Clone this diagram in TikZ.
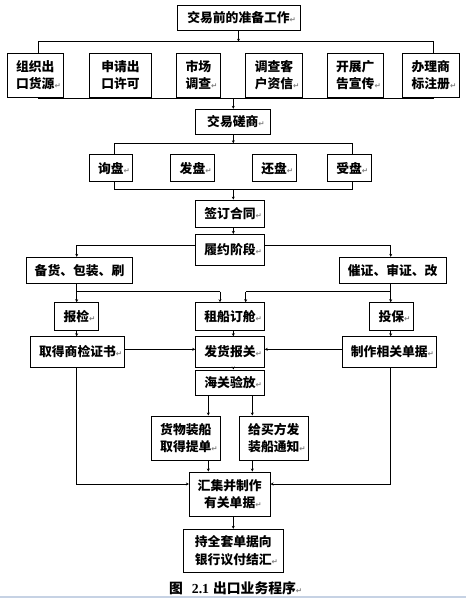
\documentclass[tikz,border=0pt]{standalone}
\usepackage{fontspec}
\setmainfont{Liberation Serif}
\newfontfamily\cjk{Noto Sans CJK SC}
\newfontfamily\djv{DejaVu Sans}
\usetikzlibrary{arrows.meta}
\newcommand\parmark{\makebox[0pt][l]{\djv\fontsize{7.5bp}{8bp}\selectfont\textcolor{gray}{↵}}}
\newcommand\bx[6]{\node[box, minimum width=#4bp, minimum height=#5bp] (#1) at (#2,#3) {#6};}
\tikzset{
  box/.style={draw, line width=0.9bp, inner sep=0pt, align=center,
    font=\cjk\bfseries\fontsize{12.8bp}{17.5bp}\selectfont},
  conn/.style={line width=0.7bp},
  arr/.style={conn, -{Stealth[length=3bp,width=3bp]}},
}
\begin{document}
\begin{tikzpicture}[x=1bp,y=-1bp]
\useasboundingbox (0,0) rectangle (466,600);
% boxes
\bx{top}{238.5}{17.5}{123}{25}{交易前的准备工作\parmark}
\bx{ra}{35.3}{75.3}{56}{44}{组织出\\口货源\parmark}
\bx{rb}{120.5}{75.3}{62.4}{44}{申请出\\口许可}
\bx{rc}{198.3}{75.3}{43.3}{44}{市场\\调查\parmark}
\bx{rd}{274}{75.3}{56.6}{44}{调查客\\户资信\parmark}
\bx{re}{355.3}{75.3}{56}{44}{开展广\\告宣传\parmark}
\bx{rf}{430.8}{75.3}{57}{44}{办理商\\标注册\parmark}
\bx{neg}{232.8}{121.8}{74.3}{25}{交易磋商\parmark}
\bx{xun}{110.8}{168.3}{43}{26.7}{询盘\parmark}
\bx{fa}{192.5}{168.3}{43.6}{26.7}{发盘\parmark}
\bx{huan}{274.1}{168.3}{43.7}{26.7}{还盘\parmark}
\bx{shou}{349.1}{168.3}{43.7}{26.7}{受盘\parmark}
\bx{sign}{230}{213.7}{68.6}{27.3}{签订合同\parmark}
\bx{lv}{230}{249.7}{68.6}{30.7}{履约阶段\parmark}
\bx{bei}{79.5}{270.3}{105.6}{26}{备货、包装、刷}
\bx{cui}{392.7}{270.3}{106.7}{26}{催证、审证、改}
\bx{bj}{76.3}{316.3}{44}{27.3}{报检\parmark}
\bx{zc}{230}{316.3}{68.6}{27.3}{租船订舱\parmark}
\bx{tb}{391.3}{316.3}{44}{27.3}{投保\parmark}
\bx{qd}{77.5}{352}{93.6}{30.6}{取得商检证书\parmark}
\bx{fh}{230}{352}{68.6}{30.6}{发货报关\parmark}
\bx{zz}{389.3}{352}{93.3}{30.6}{制作相关单据\parmark}
\bx{hg}{230}{382.8}{68.6}{25.7}{海关验放\parmark}
\bx{hw}{185.8}{438.3}{68.3}{44.7}{货物装船\\取得提单\parmark}
\bx{gm}{273.8}{438.3}{69}{44.7}{给买方发\\装船通知\parmark}
\bx{hj}{229.7}{494.3}{80.7}{44.7}{汇集并制作\\有关单据\parmark}
\bx{cq}{233.3}{550.8}{100}{43}{持全套单据向\\银行议付结汇\parmark}
\node[inner sep=0pt] (cap) at (232.5,588.3)
  {\cjk\bfseries\fontsize{13.8bp}{14bp}\selectfont 图\hspace{9bp}{\rmfamily\bfseries 2.1}\hspace{4bp}出口业务程序\parmark};
% helper coordinates
\coordinate (xc) at (233.3,0);
\coordinate (b1L) at (38,41.7);
\coordinate (b1R) at (433,41.7);
\coordinate (b2L) at (38,98.3);
\coordinate (b2R) at (433,98.3);
\coordinate (b3L) at (114.3,143.3);
\coordinate (b3R) at (352.3,143.3);
\coordinate (b4L) at (114.3,189.3);
\coordinate (b4R) at (352.3,189.3);
\coordinate (lvL) at (76.7,245.7);
\coordinate (lvR) at (390.7,245.7);
\coordinate (b5L) at (76.7,291.7);
\coordinate (b5M) at (220,291.7);
\coordinate (b6R) at (390.7,291.7);
\coordinate (b6M) at (245.7,291.7);
\coordinate (hgL) at (208.3,0);
\coordinate (hgR) at (252.3,0);
\coordinate (b7L) at (76.7,484);
\coordinate (b7R) at (390.7,484);
\coordinate (yh) at (0,349.3);
% connectors
\draw[arr] (top.south) -- (top.south |- b1L);
\draw[conn] (b1L |- ra.north) -- (b1L) -- (b1R) -- (b1R |- rf.north);
\draw[conn] (b2L |- ra.south) -- (b2L) -- (b2R) -- (b2R |- rf.south);
\draw[arr] (b2L -| xc) -- (xc |- neg.north);
\draw[arr] (xc |- neg.south) -- (xc |- b3L);
\draw[conn] (b3L |- xun.north) -- (b3L) -- (b3R) -- (b3R |- shou.north);
\draw[conn] (b4L |- xun.south) -- (b4L) -- (b4R) -- (b4R |- shou.south);
\draw[arr] (b4L -| xc) -- (xc |- sign.north);
\draw[arr] (xc |- sign.south) -- (xc |- lv.north);
\draw[arr] (lvL -| lv.west) -- (lvL) -- (lvL |- bei.north);
\draw[arr] (lvR -| lv.east) -- (lvR) -- (lvR |- cui.north);
\draw[conn] (b5L |- bei.south) -- (b5L) -- (b5M);
\draw[arr] (b5M) -- (b5M |- zc.north);
\draw[arr] (b5L) -- (b5L |- bj.north);
\draw[conn] (b6R |- cui.south) -- (b6R) -- (b6M);
\draw[arr] (b6M) -- (b6M |- zc.north);
\draw[arr] (b6R) -- (b6R |- tb.north);
\draw[arr] (b5L |- bj.south) -- (b5L |- qd.north);
\draw[arr] (b6R |- tb.south) -- (b6R |- zz.north);
\draw[arr] (xc |- zc.south) -- (xc |- fh.north);
\draw[arr] (qd.east |- yh) -- (fh.west |- yh);
\draw[arr] (zz.west |- yh) -- (fh.east |- yh);
\draw[arr] (xc |- fh.south) -- (xc |- hg.north);
\draw[arr] (hgL |- hg.south) -- (hgL |- hw.north);
\draw[arr] (hgR |- hg.south) -- (hgR |- gm.north);
\draw[arr] (hgL |- hw.south) -- (hgL |- hj.north);
\draw[arr] (hgR |- gm.south) -- (hgR |- hj.north);
\draw[arr] (b7L |- qd.south) -- (b7L) -- (b7L -| hj.west);
\draw[arr] (b7R |- zz.south) -- (b7R) -- (b7R -| hj.east);
\draw[arr] (xc |- hj.south) -- (xc |- cq.north);
% page edge
\draw[line width=2bp, color={rgb,255:red,198;green,210;blue,228}] (0,597) -- (466,597);
\end{tikzpicture}
\end{document}
